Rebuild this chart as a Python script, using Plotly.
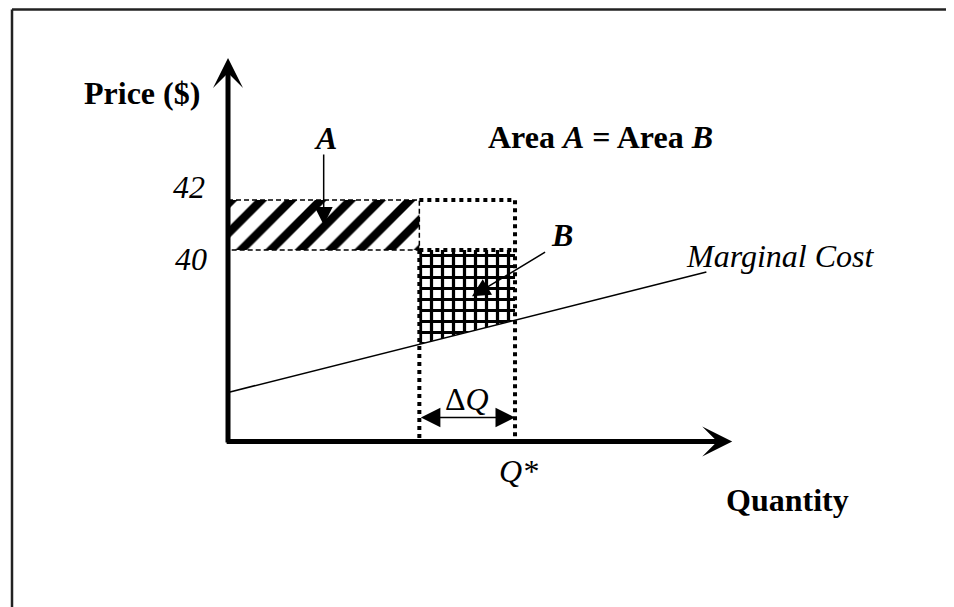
import plotly.graph_objects as go

FONT = "Liberation Serif"
W, H = 954, 607
OFF = 8  # page body margin in the browser

# ---- data (schematic units) ----
price_ticks = [42, 40]          # labelled price levels
p_high, p_low = 42, 40
q_prev, q_star = 2, 3           # Q* - dQ and Q*
mc_q = [0, 2, 3, 5]             # marginal cost line
mc_p = [34.3, 36.24, 37.2, 39.12]
axis_q_max = 5.27               # end of quantity axis (arrow tip)
axis_p_min = 32.34              # level of quantity axis
axis_p_max = 47.68              # end of price axis (arrow tip)
dq_level = 33.3                 # level of the dQ arrow

x_range = [-2.2996, 7.672]
y_range = [25.4, 49.68]


def P(xp, yp):
    """window pixel position -> paper coordinates (layout helper for text)"""
    return (xp - OFF) / W, 1 - (yp - OFF) / H


fig = go.Figure()

# hatched area A
fig.add_trace(go.Scatter(
    x=[0, q_prev, q_prev, 0, 0], y=[p_low, p_low, p_high, p_high, p_low],
    mode="lines", fill="toself", line=dict(width=0), fillcolor="white",
    fillpattern=dict(shape="/", size=21, solidity=0.4, fgcolor="black",
                     bgcolor="white", fgopacity=1),
    hoverinfo="skip", showlegend=False))

# grid area B (between price 40 and marginal cost)
fig.add_trace(go.Scatter(
    x=[q_prev, q_star, q_star, q_prev, q_prev],
    y=[p_low, p_low, mc_p[2], mc_p[1], p_low],
    mode="lines", fill="toself", line=dict(width=0), fillcolor="white",
    fillpattern=dict(shape="+", size=11, solidity=0.5, fgcolor="black",
                     bgcolor="white", fgopacity=1),
    hoverinfo="skip", showlegend=False))

thin = dict(color="black", width=1.5, dash="5px,3px")
thick = dict(color="black", width=4, dash="dot")

# thin dashed edges of A
fig.add_trace(go.Scatter(x=[0, q_prev, q_prev, 0], y=[p_high, p_high, p_low, p_low],
                         mode="lines", line=thin, hoverinfo="skip", showlegend=False))
# thick dotted box
fig.add_trace(go.Scatter(x=[q_prev, q_star, q_star], y=[p_high, p_high, axis_p_min],
                         mode="lines", line=thick, hoverinfo="skip", showlegend=False))
fig.add_trace(go.Scatter(x=[q_prev, q_prev], y=[p_low, axis_p_min],
                         mode="lines", line=thick, hoverinfo="skip", showlegend=False))
fig.add_trace(go.Scatter(x=[q_prev, q_star], y=[p_low, p_low],
                         mode="lines", line=thick, hoverinfo="skip", showlegend=False))

# marginal cost
fig.add_trace(go.Scatter(x=mc_q, y=mc_p, mode="lines",
                         line=dict(color="black", width=1.6),
                         hoverinfo="skip", showlegend=False))

ann = []
# axes as arrows
ann.append(dict(x=0, y=axis_p_max, ax=0, ay=axis_p_min - 0.1, xref="x", yref="y",
                axref="x", ayref="y", text="", showarrow=True, arrowhead=3,
                arrowwidth=5, arrowsize=1, arrowcolor="black", standoff=0))
ann.append(dict(x=axis_q_max, y=axis_p_min, ax=-0.03, ay=axis_p_min, xref="x", yref="y",
                axref="x", ayref="y", text="", showarrow=True, arrowhead=3,
                arrowwidth=5, arrowsize=1, arrowcolor="black", standoff=0))
# arrow to A
ann.append(dict(x=q_prev / 2, y=(p_high + p_low) / 2, ax=q_prev / 2, ay=43.88,
                xref="x", yref="y", axref="x", ayref="y", text="", showarrow=True,
                arrowhead=2, arrowwidth=1.5, arrowsize=2.4, arrowcolor="black", standoff=0))
# arrow to B
ann.append(dict(x=2.55, y=38.15, ax=3.33, ay=39.95,
                xref="x", yref="y", axref="x", ayref="y", text="", showarrow=True,
                arrowhead=2, arrowwidth=1.5, arrowsize=2.4, arrowcolor="black", standoff=0))
# delta Q double arrow
ann.append(dict(x=q_star, y=dq_level, ax=q_prev, ay=dq_level,
                xref="x", yref="y", axref="x", ayref="y", text="", showarrow=True,
                arrowside="end+start", arrowhead=2, startarrowhead=2,
                arrowwidth=1.5, arrowsize=2.6, startarrowsize=2.6,
                arrowcolor="black", standoff=0, startstandoff=0))


def label(text, xp, yp, size=32):
    xx, yy = P(xp, yp)
    ann.append(dict(x=xx, y=yy, xref="paper", yref="paper", text=text, showarrow=False,
                    xanchor="center", yanchor="middle",
                    font=dict(family=FONT, size=size, color="black")))


label("<b>Price ($)</b>", 142, 93)
label("<i>%d</i>" % price_ticks[0], 189, 187)
label("<i>%d</i>" % price_ticks[1], 191, 259)
label("<b><i>A</i></b>", 325, 138)
label("<b>Area <i>A</i> = Area <i>B</i></b>", 600, 137)
label("<b><i>B</i></b>", 562, 235)
label("<i>Marginal Cost</i>", 780, 256)
label("\u0394<i>Q</i>", 467, 399)
label("<i>Q*</i>", 518, 471)
label("<b>Quantity</b>", 787, 500)

fig.update_layout(
    width=W, height=H, margin=dict(l=0, r=0, t=0, b=0),
    paper_bgcolor="white", plot_bgcolor="white",
    xaxis=dict(range=x_range, visible=False, fixedrange=True),
    yaxis=dict(range=y_range, visible=False, fixedrange=True),
    annotations=ann,
    shapes=[
        dict(type="line", xref="paper", yref="paper", x0=(12 - OFF) / W, x1=1.01,
             y0=1 - (9.5 - OFF) / H, y1=1 - (9.5 - OFF) / H,
             line=dict(color="#222", width=2.5)),
        dict(type="line", xref="paper", yref="paper", x0=(12 - OFF) / W, x1=(12 - OFF) / W,
             y0=1 - (9.5 - OFF) / H, y1=-0.01, line=dict(color="#222", width=2.5)),
    ],
    showlegend=False,
)

fig.write_html("out.html")
